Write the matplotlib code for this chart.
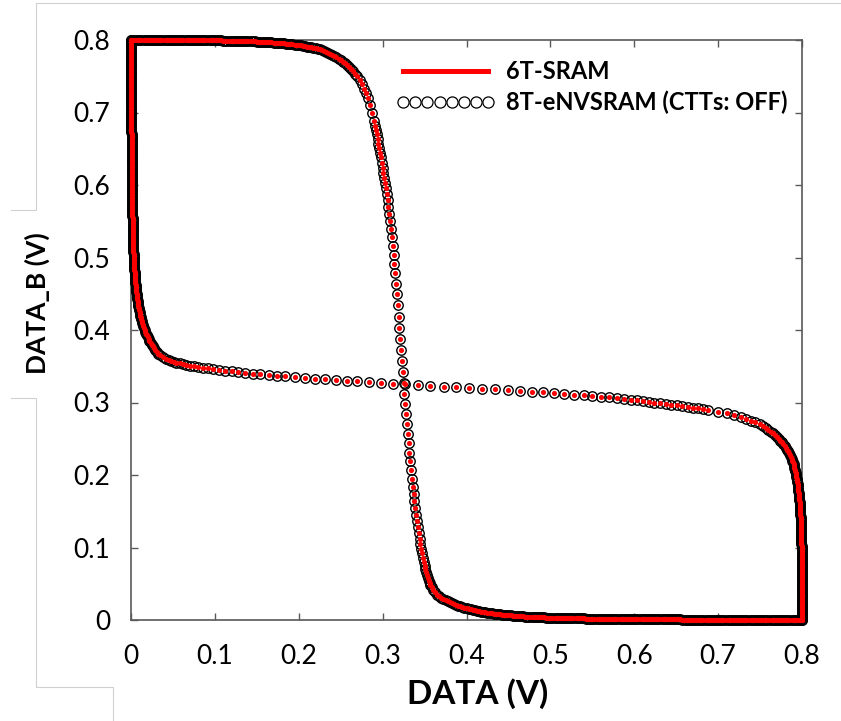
import matplotlib.pyplot as plt
from matplotlib.lines import Line2D

# transfer curve of one inverter (DATA -> DATA_B)
VIN = [
    0.0000, 0.0025, 0.0050, 0.0075, 0.0100, 0.0125, 0.0150, 0.0175, 0.0200, 0.0225,
    0.0250, 0.0275, 0.0300, 0.0325, 0.0350, 0.0375, 0.0400, 0.0425, 0.0450, 0.0475,
    0.0500, 0.0525, 0.0550, 0.0575, 0.0600, 0.0625, 0.0650, 0.0675, 0.0700, 0.0725,
    0.0750, 0.0775, 0.0800, 0.0825, 0.0850, 0.0875, 0.0900, 0.0925, 0.0950, 0.0975,
    0.1000, 0.1025, 0.1050, 0.1075, 0.1100, 0.1125, 0.1150, 0.1175, 0.1200, 0.1225,
    0.1250, 0.1275, 0.1300, 0.1325, 0.1350, 0.1375, 0.1400, 0.1425, 0.1450, 0.1475,
    0.1500, 0.1525, 0.1550, 0.1575, 0.1600, 0.1625, 0.1650, 0.1675, 0.1700, 0.1725,
    0.1750, 0.1775, 0.1800, 0.1825, 0.1850, 0.1875, 0.1900, 0.1925, 0.1950, 0.1975,
    0.2000,
    0.2025, 0.2050, 0.2075, 0.2100, 0.2125, 0.2150, 0.2175, 0.2200, 0.2225, 0.2250,
    0.2275, 0.2300, 0.2325, 0.2350, 0.2375, 0.2400, 0.2425, 0.2450, 0.2475, 0.2500,
    0.2525, 0.2550, 0.2575, 0.2600, 0.2625, 0.2650, 0.2675, 0.2700,
    0.2725, 0.2750, 0.2775, 0.2800, 0.2825, 0.2850, 0.2875, 0.2900,
    0.291, 0.292, 0.293, 0.294, 0.295, 0.296, 0.297, 0.298, 0.299, 0.300,
    0.301, 0.302, 0.303, 0.304, 0.305, 0.306, 0.307, 0.308, 0.309, 0.310,
    0.311, 0.312, 0.313, 0.314, 0.315, 0.316, 0.317, 0.318, 0.319, 0.320,
    0.321, 0.322, 0.323, 0.324, 0.325, 0.326, 0.327, 0.328, 0.329, 0.330,
    0.331, 0.332, 0.333, 0.334, 0.335, 0.336, 0.337, 0.338, 0.339, 0.340,
    0.341, 0.342, 0.343, 0.344, 0.345, 0.346, 0.347, 0.348, 0.349, 0.350,
    0.351, 0.352, 0.353, 0.354, 0.355, 0.356, 0.357, 0.3585,
    0.3600, 0.3625, 0.3650, 0.3675, 0.3700, 0.3725, 0.3750, 0.3775, 0.3800, 0.3825,
    0.3850, 0.3875, 0.3900, 0.3925, 0.3950, 0.3975, 0.4000,
    0.4025, 0.4050, 0.4075, 0.4100, 0.4125, 0.4150, 0.4175, 0.4200, 0.4225, 0.4250,
    0.4275, 0.4300, 0.4325, 0.4350, 0.4375, 0.4400, 0.4425, 0.4450, 0.4475, 0.4500,
    0.4525, 0.4550, 0.4575, 0.4600, 0.4625, 0.4650, 0.4675, 0.4700, 0.4725, 0.4750,
    0.4775, 0.4800, 0.4825, 0.4850, 0.4875, 0.4900, 0.4925, 0.4950, 0.4975, 0.5000,
    0.5025, 0.5050, 0.5075, 0.5100, 0.5125, 0.5150, 0.5175, 0.5200, 0.5225, 0.5250,
    0.5275, 0.5300, 0.5325, 0.5350, 0.5375, 0.5400, 0.5425, 0.5450, 0.5475, 0.5500,
    0.5525, 0.5550, 0.5575, 0.5600, 0.5625, 0.5650, 0.5675, 0.5700, 0.5725, 0.5750,
    0.5775, 0.5800, 0.5825, 0.5850, 0.5875, 0.5900, 0.5925, 0.5950, 0.5975, 0.6000,
    0.6025, 0.6050, 0.6075, 0.6100, 0.6125, 0.6150, 0.6175, 0.6200, 0.6225, 0.6250,
    0.6275, 0.6300, 0.6325, 0.6350, 0.6375, 0.6400, 0.6425, 0.6450, 0.6475, 0.6500,
    0.6525, 0.6550, 0.6575, 0.6600, 0.6625, 0.6650, 0.6675, 0.6700, 0.6725, 0.6750,
    0.6775, 0.6800, 0.6825, 0.6850, 0.6875, 0.6900, 0.6925, 0.6950, 0.6975, 0.7000,
    0.7025, 0.7050, 0.7075, 0.7100, 0.7125, 0.7150, 0.7175, 0.7200, 0.7225, 0.7250,
    0.7275, 0.7300, 0.7325, 0.7350, 0.7375, 0.7400, 0.7425, 0.7450, 0.7475, 0.7500,
    0.7525, 0.7550, 0.7575, 0.7600, 0.7625, 0.7650, 0.7675, 0.7700, 0.7725, 0.7750,
    0.7775, 0.7800, 0.7825, 0.7850, 0.7875, 0.7900, 0.7925, 0.7950, 0.7975, 0.8000,
]
VOUT = [
    0.8000, 0.8000, 0.8000, 0.8000, 0.8000, 0.8000, 0.8000, 0.8000, 0.8000, 0.8000,
    0.8000, 0.8000, 0.8000, 0.8000, 0.8000, 0.8000, 0.8000, 0.8000, 0.8000, 0.8000,
    0.8000, 0.8000, 0.8000, 0.8000, 0.8000, 0.8000, 0.8000, 0.8000, 0.8000, 0.8000,
    0.8000, 0.8000, 0.8000, 0.8000, 0.8000, 0.8000, 0.8000, 0.8000, 0.8000, 0.8000,
    0.7995, 0.7995, 0.7994, 0.7994, 0.7993, 0.7993, 0.7992, 0.7992, 0.7991, 0.7991,
    0.7990, 0.7989, 0.7988, 0.7987, 0.7986, 0.7985, 0.7984, 0.7983, 0.7981, 0.7980,
    0.7978, 0.7977, 0.7975, 0.7974, 0.7972, 0.7971, 0.7969, 0.7967, 0.7965, 0.7963,
    0.7960, 0.7958, 0.7955, 0.7953, 0.7950, 0.7947, 0.7944, 0.7941, 0.7937, 0.7934,
    0.7930,
    0.7925, 0.7920, 0.7915, 0.7910, 0.7905, 0.7900, 0.7893, 0.7886, 0.7878, 0.7870,
    0.7860, 0.7850, 0.7838, 0.7825, 0.7810, 0.7795, 0.7778, 0.7760, 0.7740, 0.7720,
    0.7700, 0.7677, 0.7653, 0.7628, 0.7600, 0.7570, 0.7537, 0.7500,
    0.7445, 0.7390, 0.7330, 0.7270, 0.7195, 0.7110, 0.7000, 0.6880,
    0.682, 0.676, 0.670, 0.664, 0.657, 0.651, 0.644, 0.638, 0.631, 0.624,
    0.617, 0.610, 0.603, 0.596, 0.588, 0.579, 0.570, 0.560, 0.550, 0.540,
    0.528, 0.516, 0.504, 0.491, 0.478, 0.464, 0.449, 0.434, 0.418, 0.403,
    0.388, 0.373, 0.357, 0.342, 0.327, 0.312, 0.298, 0.284, 0.270, 0.257,
    0.244, 0.231, 0.219, 0.207, 0.195, 0.184, 0.174, 0.164, 0.154, 0.145,
    0.136, 0.128, 0.120, 0.112, 0.105, 0.098, 0.092, 0.086, 0.080, 0.075,
    0.070, 0.066, 0.062, 0.058, 0.054, 0.051, 0.048, 0.045,
    0.0420, 0.0380, 0.0350, 0.0325, 0.0305, 0.0290, 0.0275, 0.0260, 0.0248, 0.0234,
    0.0220, 0.0210, 0.0200, 0.0190, 0.0180, 0.0171, 0.0163,
    0.0155, 0.0148, 0.0141, 0.0135, 0.0129, 0.0123, 0.0117, 0.0112, 0.0107, 0.0102,
    0.0097, 0.0093, 0.0089, 0.0085, 0.0081, 0.0078, 0.0075, 0.0072, 0.0069, 0.0066,
    0.0063, 0.0061, 0.0058, 0.0056, 0.0054, 0.0052, 0.0050, 0.0048, 0.0046, 0.0045,
    0.0043, 0.0042, 0.0040, 0.0039, 0.0037, 0.0036, 0.0035, 0.0034, 0.0033, 0.0032,
    0.0031, 0.0030, 0.0029, 0.0028, 0.0027, 0.0027, 0.0026, 0.0025, 0.0024, 0.0024,
    0.0023, 0.0023, 0.0022, 0.0022, 0.0021, 0.0021, 0.0020, 0.0020, 0.0019, 0.0019,
    0.0018, 0.0018, 0.0017, 0.0017, 0.0016, 0.0016, 0.0015, 0.0015, 0.0015, 0.0015,
    0.0014, 0.0014, 0.0013, 0.0013, 0.0013, 0.0013, 0.0012, 0.0012, 0.0012, 0.0012,
    0.0011, 0.0011, 0.0011, 0.0011, 0.0010, 0.0010, 0.0010, 0.0010, 0.0009, 0.0009,
    0.0009, 0.0009, 0.0008, 0.0008, 0.0008, 0.0008, 0.0008, 0.0008, 0.0007, 0.0007,
    0.0007, 0.0007, 0.0006, 0.0006, 0.0006, 0.0006, 0.0006, 0.0006, 0.0005, 0.0005,
    0.0005, 0.0005, 0.0005, 0.0005, 0.0004, 0.0004, 0.0004, 0.0004, 0.0004, 0.0004,
    0.0003, 0.0003, 0.0003, 0.0003, 0.0003, 0.0003, 0.0003, 0.0003, 0.0002, 0.0002,
    0.0002, 0.0002, 0.0002, 0.0002, 0.0002, 0.0002, 0.0001, 0.0001, 0.0001, 0.0001,
    0.0001, 0.0001, 0.0001, 0.0001, 0.0001, 0.0001, 0.0000, 0.0000, 0.0000, 0.0000,
    0.0000, 0.0000, 0.0000, 0.0000, 0.0000, 0.0000, 0.0000, 0.0000, 0.0000, 0.0000,
]

TICKS = [0, 0.1, 0.2, 0.3, 0.4, 0.5, 0.6, 0.7, 0.8]
TICK_LABELS = ["0", "0.1", "0.2", "0.3", "0.4", "0.5", "0.6", "0.7", "0.8"]
LABEL_6T = "6T-SRAM"
LABEL_8T = "8T-eNVSRAM (CTTs: OFF)"
X_LABEL = "DATA (V)"
Y_LABEL = "DATA_B (V)"

W, H = 841, 721

plt.rcParams["font.family"] = ["Lato", "DejaVu Sans"]

fig = plt.figure(figsize=(W / 100, H / 100), dpi=100)
ax = fig.add_axes([131 / W, 101 / H, 671 / W, 580 / H])

# butterfly: the curve and its mirror image
halves = [(VIN, VOUT), (VOUT, VIN)]
for xs, ys in halves:
    ax.plot(xs, ys, ls="none", marker="o", ms=6.8, mfc="none", mec="black",
            mew=1.0, clip_on=False, zorder=3)
for xs, ys in halves:
    ax.plot(xs, ys, ls="none", marker="o", ms=3.7, mfc="red", mec="none",
            clip_on=False, zorder=4)

ax.set_xlim(0, 0.8)
ax.set_ylim(0, 0.8)
ax.set_xticks(TICKS, TICK_LABELS)
ax.set_yticks(TICKS, TICK_LABELS)
ax.tick_params(direction="in", length=5, width=1, color="#595959",
               top=True, right=True, labelsize=19)
ax.tick_params(axis="x", pad=17)
ax.tick_params(axis="y", pad=15)
for sp in ax.spines.values():
    sp.set_color("#595959")
    sp.set_linewidth(1.2)

ax.set_xlabel(X_LABEL, fontsize=24, fontweight="bold")
ax.set_ylabel(Y_LABEL, fontsize=19, fontweight="bold")
ax.xaxis.set_label_coords(0.517, -0.1)
ax.yaxis.set_label_coords(-0.12, 0.546)

handles = [
    Line2D([], [], color="red", lw=3.6),
    Line2D([], [], ls="none", marker="o", ms=8, mfc="none", mec="black", mew=0.9),
]
leg = ax.legend(handles, [LABEL_6T, LABEL_8T], loc="upper left",
                bbox_to_anchor=(0.395, 0.965), frameon=False, numpoints=8,
                prop={"size": 17, "weight": "bold"}, handlelength=4.2,
                handletextpad=0.45, labelspacing=0.3, borderpad=0,
                borderaxespad=0)

# light grey border lines left over from the screenshot
border = [
    [(11, 210), (36, 210), (36, 3), (841, 3)],
    [(11, 398), (36, 398), (36, 687), (113, 687), (113, 721)],
]
for path in border:
    xs = [p[0] / W for p in path]
    ys = [1 - p[1] / H for p in path]
    fig.add_artist(Line2D(xs, ys, color="#d0d0d0", lw=0.8))

fig.savefig("out.png", dpi=100)
